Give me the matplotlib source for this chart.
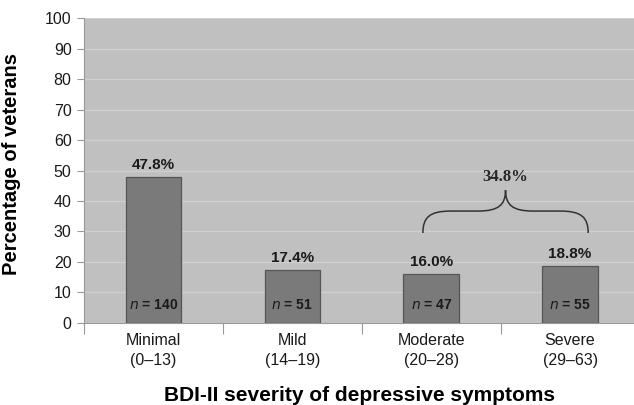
import numpy as np
import matplotlib
matplotlib.use("Agg")
import matplotlib.pyplot as plt
from matplotlib.path import Path
from matplotlib.patches import PathPatch

plt.rcParams['font.family'] = ['Liberation Sans', 'DejaVu Sans']

categories = ["Minimal\n(0\u201313)", "Mild\n(14\u201319)", "Moderate\n(20\u201328)", "Severe\n(29\u201363)"]
percent = [47.8, 17.4, 16.0, 18.8]
counts = [140, 51, 47, 55]
combined = 34.8  # moderate + severe

fig = plt.figure(figsize=(6.34, 4.05), dpi=100)
ax = fig.add_axes([0.1325, 0.2025, 0.8675, 0.753])
ax.set_facecolor('#c0c0c0')

x = np.arange(len(categories))
ax.bar(x, percent, width=0.40, color='#7a7a7a', edgecolor='#555555', linewidth=0.9, zorder=3)

for xi, p, n in zip(x, percent, counts):
    ax.text(xi, p + 1.6, f"{p:.1f}%", ha='center', va='bottom',
            fontsize=11, fontweight='bold', color='#1a1a1a', zorder=4)
    ax.text(xi, 5.9, f"$\\mathbf{{\\mathit{{n}}}}$ = {n}", ha='center', va='center',
            fontsize=10, fontweight='bold', color='#1a1a1a', zorder=4,
            family=['Liberation Sans Narrow', 'Liberation Sans'])

# curly brace over the two upper groups
x0, x1 = 1.94, 3.13
xc = (x0 + x1) / 2
yb, yh, yt = 29.5, 36.7, 43.6
r = 0.2
verts = [
    (x0, yb), (x0, yh - 2), (x0 + 0.05, yh), (x0 + r, yh),
    (xc - r, yh),
    (xc - 0.05, yh), (xc, yh + 2), (xc, yt),
    (xc, yh + 2), (xc + 0.05, yh), (xc + r, yh),
    (x1 - r, yh),
    (x1 - 0.05, yh), (x1, yh - 2), (x1, yb),
]
codes = [Path.MOVETO, Path.CURVE4, Path.CURVE4, Path.CURVE4,
         Path.LINETO,
         Path.CURVE4, Path.CURVE4, Path.CURVE4,
         Path.CURVE4, Path.CURVE4, Path.CURVE4,
         Path.LINETO,
         Path.CURVE4, Path.CURVE4, Path.CURVE4]
ax.add_patch(PathPatch(Path(verts, codes), facecolor='none', edgecolor='#333333',
                       linewidth=1.1, zorder=4))
ax.text(xc, yt + 1.6, f"{combined:.1f}%", ha='center', va='bottom', fontsize=12,
        fontweight='bold', color='#262626', family=['Liberation Serif', 'DejaVu Serif'])

ax.set_xlim(-0.5, 3.46)
ax.set_ylim(0, 100)
ax.set_yticks(np.arange(0, 101, 10))
ax.yaxis.grid(True, color='#d0d0d0', linewidth=0.9, zorder=0)
ax.set_axisbelow(True)

ax.set_xticks(x)
ax.set_xticklabels(categories, fontsize=11.5, color='#1a1a1a', linespacing=1.4)
ax.set_xticks([-0.5, 0.5, 1.5, 2.5], minor=True)
ax.tick_params(axis='x', which='major', length=0, pad=7)
ax.tick_params(axis='x', which='minor', length=8, color='#999999', width=0.8)
ax.tick_params(axis='y', length=5, color='#999999', width=0.8, labelsize=11.5,
               labelcolor='#1a1a1a', pad=4)

for side in ['top', 'right']:
    ax.spines[side].set_visible(False)
for side in ['left', 'bottom']:
    ax.spines[side].set_color('#999999')
    ax.spines[side].set_linewidth(0.8)

ax.set_ylabel("Percentage of veterans", fontsize=14.5, fontweight='bold')
ax.yaxis.set_label_coords(-0.115, 0.52)
ax.set_xlabel("BDI-II severity of depressive symptoms", fontsize=15, fontweight='bold', labelpad=13)

fig.savefig("out.png", dpi=100, facecolor='white')
